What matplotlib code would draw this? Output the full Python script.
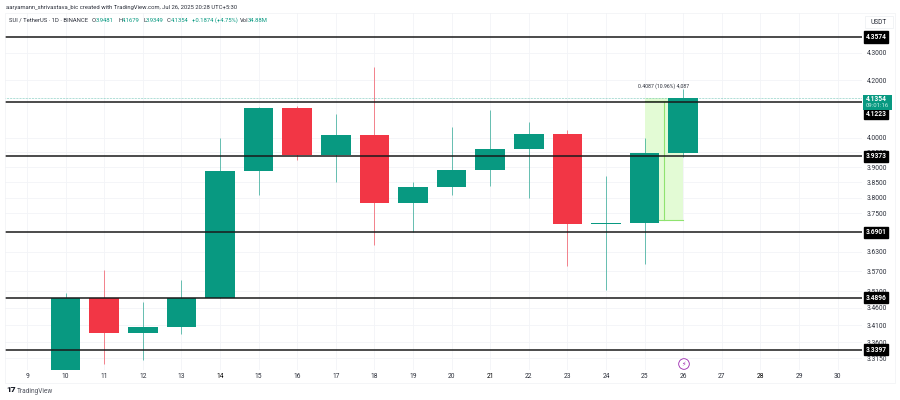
import matplotlib
matplotlib.use('Agg')
import matplotlib.pyplot as plt
from matplotlib.patches import Rectangle
from matplotlib.ticker import NullFormatter, NullLocator
import numpy as np

plt.rcParams['font.family'] = ['Roboto', 'DejaVu Sans']

# daily candles
days = [10, 11, 12, 13, 14, 15, 16, 17, 18, 19, 20, 21, 22, 23, 24, 25, 26]
opens = [3.282, 3.490, 3.387, 3.404, 3.490, 3.888, 4.102, 3.940, 4.009, 3.783, 3.835, 3.891, 3.961, 4.012, 3.716, 3.720, 3.9481]
highs = [3.505, 3.573, 3.477, 3.543, 4.000, 4.105, 4.108, 4.081, 4.248, 3.851, 4.036, 4.095, 4.053, 4.026, 3.871, 4.000, 4.1679]
lows = [3.282, 3.300, 3.310, 3.383, 3.490, 3.809, 3.924, 3.851, 3.651, 3.690, 3.809, 3.838, 3.800, 3.587, 3.513, 3.592, 3.9349]
closes = [3.490, 3.387, 3.404, 3.490, 3.888, 4.102, 3.940, 4.009, 3.783, 3.835, 3.891, 3.961, 4.012, 3.716, 3.720, 3.948, 4.1354]

levels = [4.3574, 4.1223, 3.9373, 3.6901, 3.4896, 3.3397]
level_tags = ['4.3574', '4.1223', '3.9373', '3.6901', '3.4896', '3.3397']
price_ticks = [4.3, 4.2, 4.0, 3.95, 3.9, 3.85, 3.8, 3.75, 3.63, 3.57, 3.51, 3.46, 3.41, 3.36, 3.315]
day_ticks = list(range(9, 31))
dark_days = [14, 21, 28]

GREEN = '#089981'
RED = '#F23645'
FS = 4.8
FS_HEAD = 4.25


def px(x, y):
    # picture pixels to figure fraction
    return x / 900, 1 - y / 400


fig = plt.figure(figsize=(9, 4), dpi=100, facecolor='white')
ax = fig.add_axes([5 / 900, 1 - 370 / 400, 857 / 900, 357 / 400])
ax.set_yscale('log')
ax.set_xlim(9 - 22 / 38.6, 9 + 835 / 38.6)
ax.set_ylim(3.282, 4.4473)
for s in ax.spines.values():
    s.set_visible(False)
ax.set_axisbelow(True)

# grid
ax.set_xticks(day_ticks)
ax.set_xticklabels([str(d) for d in day_ticks], fontsize=FS, color='#2a2e39')
for lab, d in zip(ax.get_xticklabels(), day_ticks):
    lab.set_va('center')
    if d in dark_days:
        lab.set_color('black')
ax.yaxis.tick_right()
ax.set_yticks(price_ticks)
ax.set_yticklabels(['%.4f' % p for p in price_ticks], fontsize=FS, color='#2a2e39')
ax.yaxis.set_minor_locator(NullLocator())
ax.yaxis.set_minor_formatter(NullFormatter())
ax.tick_params(axis='both', length=0)
ax.tick_params(axis='y', pad=3.5)
ax.tick_params(axis='x', pad=4.5)
ax.grid(True, color='#f2f4f7', linewidth=0.6)

# long position tool behind candles
ax.add_patch(Rectangle((25, 3.7283), 1, 4.1370 - 3.7283, facecolor='#e3fbd5', edgecolor='none', zorder=1))
ax.plot([25, 26], [4.1250, 4.1250], color='#8fe36f', lw=0.8, zorder=1.5)
ax.plot([25, 26], [3.7283, 3.7283], color='#8fe36f', lw=0.8, zorder=1.5)
ax.plot([25.5, 25.5], [3.7283, 4.1250], color='#8fe36f', lw=0.8, zorder=4)
ax.text(25.5, 4.168, '0.4087 (10.96%) 4,087', fontsize=3.7, color='#2a2e39', ha='center', va='bottom')

# candles
colors = [GREEN if c >= o else RED for o, c in zip(opens, closes)]
ax.vlines(days, lows, highs, colors=colors, linewidth=0.6, alpha=0.7, zorder=2)
bar_h = [c - o for o, c in zip(opens, closes)]
ax.bar(days, bar_h, bottom=opens, width=0.77, color=colors, linewidth=0, zorder=3, clip_on=False)

# horizontal levels and price tags
ax.hlines(levels, ax.get_xlim()[0], ax.get_xlim()[1], colors='#1a1a1a', linewidth=1.1, zorder=5)
tag_y = {'4.1223': 4.0815}
tr = ax.get_yaxis_transform()
for lev, tag in zip(levels, level_tags):
    ax.text(1.0045, tag_y.get(tag, lev), tag, transform=tr, fontsize=FS, color='white', fontweight='bold',
            ha='left', va='center', clip_on=False, zorder=8,
            bbox=dict(facecolor='black', edgecolor='black', pad=1.1))

# last price tag
ax.axhline(4.1354, color=GREEN, lw=0.4, ls=':', zorder=2)
x0, y0 = px(863, 110)
fig.add_artist(Rectangle((x0, y0), 29 / 900, 15 / 400, transform=fig.transFigure, facecolor=GREEN, edgecolor='none', zorder=6))
fig.text(*px(866, 99), '4.1354', fontsize=FS, color='white', fontweight='bold', va='center', zorder=7)
fig.text(*px(866, 105.5), '09:01:16', fontsize=4.3, color='#c8efe6', va='center', zorder=7)

# currency box
x0, y0 = px(865, 28)
fig.add_artist(Rectangle((x0, y0), 28 / 900, 12 / 400, transform=fig.transFigure, facecolor='white', edgecolor='#eceef2', lw=0.5))
fig.text(*px(879, 22), 'USDT', fontsize=FS, color='#2a2e39', ha='center', va='center')

# pane frame
x0, y0 = px(5, 383)
fig.add_artist(Rectangle((x0, y0), 890 / 900, 370 / 400, transform=fig.transFigure, facecolor='none', edgecolor='#f0f1f4', lw=0.5))

# header and legend
fig.text(*px(6, 7.5), 'aaryamann_shrivastava_bic created with TradingView.com, Jul 26, 2025 20:28 UTC+5:30',
         fontsize=FS_HEAD, color='#2a2e39', va='center')
legend_bits = [(9, 'SUI / TetherUS · 1D · BINANCE', '#2a2e39'),
               (92, 'O', '#2a2e39'), (95.5, '3.9481', GREEN),
               (118, 'H', '#2a2e39'), (121.5, '4.1679', GREEN),
               (143, 'L', '#2a2e39'), (145.5, '3.9349', GREEN),
               (167, 'C', '#2a2e39'), (170.5, '4.1354', GREEN),
               (192, '+0.1874 (+4.75%)', GREEN),
               (240, 'Vol', '#2a2e39'), (247.5, '34.88M', GREEN)]
for x, txt, col in legend_bits:
    fig.text(*px(x, 20), txt, fontsize=FS_HEAD, color=col, va='center')

# bolt marker above day 26
bolt_x, bolt_y = px(684, 364)
fig.text(bolt_x, bolt_y, '\u26a1', fontsize=4.5, color='#9c27b0', ha='center', va='center', family='DejaVu Sans',
         bbox=dict(boxstyle='circle,pad=0.45', facecolor='white', edgecolor='#9c27b0', lw=0.6), zorder=7)

# footer logo
fig.text(*px(6, 390), '17', fontsize=6, fontweight='heavy', color='#131722', va='center')
fig.text(*px(17, 391.5), 'TradingView', fontsize=4.7, color='#50535e', va='center')

fig.savefig('out.png', dpi=100)
